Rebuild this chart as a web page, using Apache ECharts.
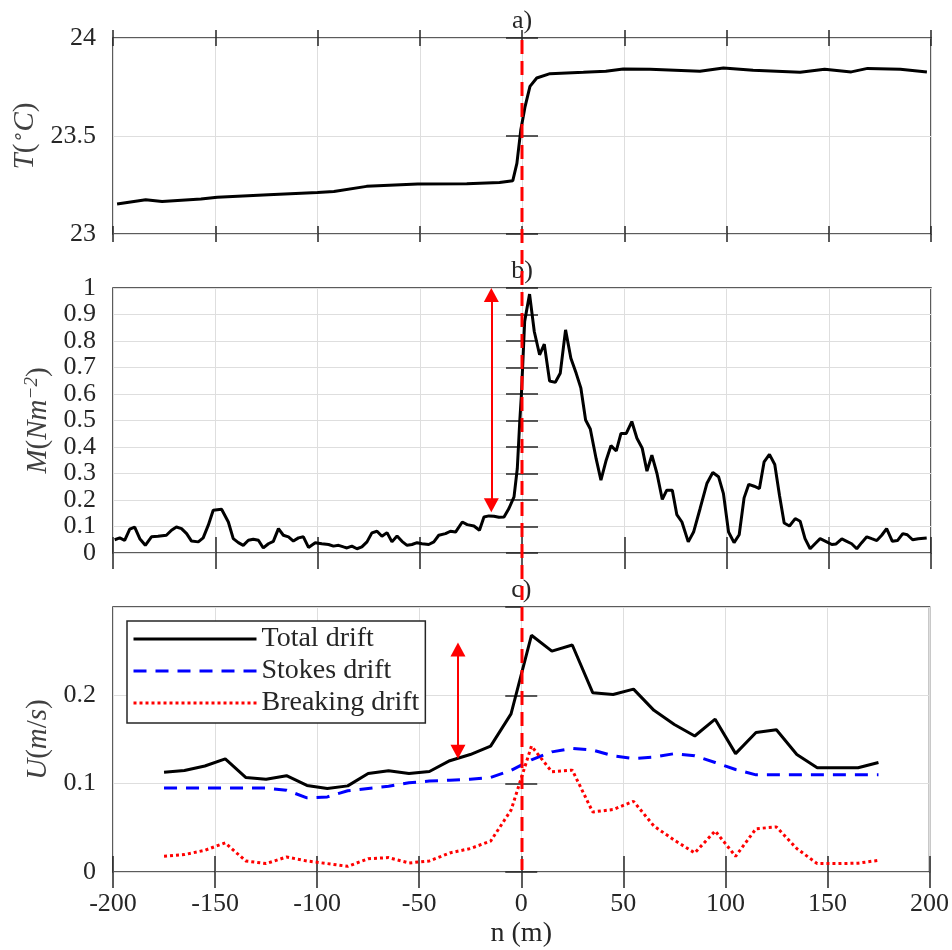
<!DOCTYPE html>
<html>
<head>
<meta charset="utf-8">
<script src="https://cdn.jsdelivr.net/npm/echarts@6/dist/echarts.min.js"></script>
<style>
  html, body { margin: 0; padding: 0; background: #fff; }
  #chart { width: 952px; height: 950px; }
</style>
</head>
<body>
<div id="chart"></div>
<script>
// a) temperature across the front
var tDist = [-198, -184, -176, -157, -149, -124, -100, -92, -76, -51, -27, -11, -4.5, -2.5, -0.6, 1.5, 3.9, 7.2, 13.7, 30, 41, 49.5, 62.6, 87, 98.5, 113, 136, 148, 161, 169, 185, 198];
var tVal = [23.153, 23.175, 23.166, 23.178, 23.188, 23.2, 23.212, 23.217, 23.243, 23.255, 23.256, 23.263, 23.272, 23.36, 23.53, 23.65, 23.753, 23.796, 23.818, 23.825, 23.83, 23.842, 23.84, 23.83, 23.847, 23.835, 23.825, 23.84, 23.827, 23.845, 23.84, 23.826];

// b) M
var mDist = [-199.2, -196.7, -194.3, -191.8, -189.4, -186.9, -184.2, -181.2, -178, -173.9,
  -171.4, -169, -166.5, -164, -161.6, -158.3, -155.9, -153.4, -151, -146.9,
  -143.6, -141.2, -138.7, -136.3, -133.8, -131.4, -128.9, -126.5, -124, -121.6,
  -119.1, -116.7, -114.2, -111.8, -109.3, -106.9, -104.4, -101.1, -97.9, -94.6,
  -92.2, -89.7, -87.3, -85.6, -83.2, -80.7, -78.3, -75.8, -73.4, -70.9,
  -68.5, -66, -63.6, -61.1, -58.7, -56.2, -53.8, -51.3, -48.9, -45.6,
  -43.1, -40.7, -37.4, -35, -32.5, -29.2, -26.8, -23.5, -20.8, -18.6,
  -16.2, -13.7, -11.3, -8.8, -6.4, -3.9, -2.3, -1.1, -0.3, 1.3,
  3.7, 6, 8.6, 10.9, 13.5, 16.3, 18.7, 21.3, 23.9, 26.5,
  28.8, 31.1, 33.4, 36.3, 38.6, 41.2, 43.5, 46.1, 48.4, 51,
  53.7, 56.2, 58.8, 61.1, 63.5, 66, 68.6, 70.8, 73.5, 75.7,
  78.2, 81.3, 83.9, 87.1, 90.4, 93.3, 96.1, 98.5, 101, 103.7,
  106.2, 108.6, 110.9, 113.5, 116.1, 118.4, 121, 123.6, 125.9, 128.2,
  130.8, 133.6, 136, 138.4, 140.9, 143.3, 145.8, 148.5, 151.5, 153.6,
  156.4, 158.8, 161.2, 163.7, 166.1, 168.6, 171, 173.5, 175.9, 178.3,
  181.1, 183.6, 186.2, 188.4, 191, 193.8, 197.9];
var mVal = [0.050, 0.057, 0.048, 0.09, 0.098, 0.054, 0.029, 0.061, 0.063, 0.067,
  0.086, 0.098, 0.092, 0.073, 0.045, 0.042, 0.057, 0.105, 0.161, 0.165,
  0.117, 0.054, 0.039, 0.029, 0.048, 0.052, 0.048, 0.019, 0.035, 0.044,
  0.092, 0.067, 0.061, 0.045, 0.057, 0.061, 0.021, 0.039, 0.035, 0.032,
  0.026, 0.029, 0.023, 0.019, 0.026, 0.016, 0.023, 0.042, 0.076, 0.082,
  0.063, 0.077, 0.042, 0.064, 0.044, 0.029, 0.032, 0.039, 0.035, 0.032,
  0.042, 0.067, 0.073, 0.082, 0.079, 0.117, 0.107, 0.102, 0.086, 0.136,
  0.14, 0.139, 0.135, 0.136, 0.168, 0.212, 0.319, 0.496, 0.596, 0.874,
  0.977, 0.836, 0.748, 0.788, 0.649, 0.644, 0.678, 0.842, 0.735, 0.678,
  0.622, 0.502, 0.468, 0.354, 0.275, 0.351, 0.405, 0.385, 0.451, 0.451,
  0.496, 0.433, 0.395, 0.309, 0.369, 0.3, 0.202, 0.237, 0.237, 0.145,
  0.117, 0.042, 0.079, 0.168, 0.262, 0.304, 0.288, 0.224, 0.079, 0.039,
  0.069, 0.208, 0.259, 0.252, 0.243, 0.344, 0.372, 0.334, 0.218, 0.113,
  0.102, 0.13, 0.12, 0.054, 0.016, 0.035, 0.054, 0.044, 0.032, 0.034,
  0.053, 0.044, 0.035, 0.016, 0.039, 0.061, 0.054, 0.047, 0.067, 0.092,
  0.044, 0.047, 0.073, 0.069, 0.05, 0.054, 0.057];

// c) drift velocities
var driftDist = [-175, -165, -155, -145, -135, -125, -115, -105, -95, -85, -75, -65, -55, -45, -35, -25, -15, -5,
  5, 15, 25, 35, 45, 55, 65, 75, 85, 95, 105, 115, 125, 135, 145, 155, 165, 175];
var totalDrift = [0.113, 0.115, 0.12, 0.128, 0.107, 0.105, 0.109, 0.098, 0.0945, 0.0975, 0.1115, 0.1146, 0.1115, 0.1138, 0.126, 0.133, 0.1425, 0.179,
  0.268, 0.25, 0.257, 0.203, 0.201, 0.207, 0.183, 0.167, 0.154, 0.173, 0.134, 0.158, 0.161, 0.133, 0.118, 0.118, 0.118, 0.124];
var stokesDrift = [0.095, 0.095, 0.095, 0.095, 0.095, 0.095, 0.0926, 0.084, 0.085, 0.092, 0.0945, 0.097, 0.101, 0.103, 0.104, 0.105, 0.107, 0.115,
  0.127, 0.136, 0.14, 0.138, 0.1316, 0.1285, 0.13, 0.134, 0.1316, 0.124, 0.116, 0.11, 0.11, 0.11, 0.11, 0.11, 0.11, 0.11];
var breakingDrift = [0.0178, 0.0197, 0.0246, 0.033, 0.0125, 0.0095, 0.017, 0.0125, 0.0095, 0.0064, 0.015, 0.0163, 0.0102, 0.0125, 0.0216, 0.0265, 0.035, 0.07,
  0.1425, 0.1134, 0.1153, 0.068, 0.0707, 0.08, 0.052, 0.036, 0.0216, 0.0465, 0.0178, 0.049, 0.051, 0.0265, 0.0095, 0.0095, 0.01, 0.0132];

var legendNames = ["Total drift", "Stokes drift", "Breaking drift"];
var panelTitles = ["a)", "b)", "c)"];
// arrow ends (n, value) drawn as double-headed arrows
var arrowB = [[-15, 0.18], [-15, 0.9735]];
var arrowC = [[-31, 0.136], [-31, 0.252]];

var FONT = "Liberation Serif";
var INK = "#262626";

function pairs(xs, ys) {
  return xs.map(function (x, i) { return [x, ys[i]]; });
}

var myChart = echarts.init(document.getElementById("chart"));

var grids = [
  { left: 113, right: 21, top: 38, height: 196 },
  { left: 113, right: 21, top: 288, height: 265 },
  { left: 113, right: 21, top: 607, height: 265 }
].map(function (g) {
  g.show = true;
  g.borderColor = INK;
  g.borderWidth = 1.5;
  g.backgroundColor = "transparent";
  return g;
});

var tick = { show: true, inside: true, length: 16, lineStyle: { color: INK, width: 1.5 } };
var split = { show: true, lineStyle: { color: "#dedede", width: 1 } };

var xAxes = [];
var yAxes = [];
var yRanges = [[23, 24, 0.5], [0, 1, 0.1], [0, 0.3, 0.1]];
var yNames = [
  "{i|T}{r|(}{sup|∘}{i|C}{r|)}",
  "{i|M}{r|(}{i|Nm}{sup|−2}{r|)}",
  "{i|U}{r|(}{i|m}{r|/}{i|s}{r|)}"
];
var yGaps = [60, 50, 50];
var nameRich = {
  i: { fontFamily: FONT, fontStyle: "italic", fontSize: 29, color: "#404040", lineHeight: 32 },
  r: { fontFamily: FONT, fontSize: 29, color: "#404040", lineHeight: 32 },
  sup: { fontFamily: FONT, fontStyle: "italic", fontSize: 19, color: "#404040", lineHeight: 18, verticalAlign: "top" }
};

for (var g = 0; g < 3; g++) {
  xAxes.push({
    type: "value", gridIndex: g, position: "bottom", min: -200, max: 200, interval: 50,
    offset: 8, axisLine: { show: false }, axisTick: tick, splitLine: split,
    axisLabel: { show: g === 2, margin: 11, color: INK, fontFamily: FONT, fontSize: 26 },
    name: g === 2 ? "n (m)" : "", nameLocation: "middle", nameGap: 40,
    nameTextStyle: { fontFamily: FONT, fontSize: 28, color: INK }
  });
  xAxes.push({
    type: "value", gridIndex: g, position: "top", min: -200, max: 200, interval: 50,
    offset: 8, axisLine: { show: false }, axisTick: tick, splitLine: { show: false },
    axisLabel: { show: false },
    name: panelTitles[g], nameLocation: "middle", nameGap: -4,
    nameTextStyle: { fontFamily: FONT, fontSize: 26, color: INK }
  });
  var r = yRanges[g];
  yAxes.push({
    type: "value", gridIndex: g, position: "left", min: r[0], max: r[1], interval: r[2],
    offset: 8, axisLine: { show: false }, axisTick: tick, splitLine: split,
    axisLabel: { margin: 9, color: INK, fontFamily: FONT, fontSize: 26, showMaxLabel: g !== 2 },
    name: yNames[g], nameLocation: "middle", nameGap: yGaps[g],
    nameTextStyle: { rich: nameRich }
  });
  yAxes.push({
    type: "value", gridIndex: g, position: "right", min: r[0], max: r[1], interval: r[2],
    offset: 8, axisLine: { show: false }, axisTick: tick, splitLine: { show: false },
    axisLabel: { show: false }
  });
}

function arrowLine(a) {
  return {
    silent: true,
    symbol: ["triangle", "triangle"],
    symbolSize: [15, 14],
    label: { show: false },
    lineStyle: { color: "#ff0000", width: 2, type: "solid" },
    itemStyle: { color: "#ff0000" },
    emphasis: { disabled: true },
    data: [[{ coord: a[0] }, { coord: a[1] }]]
  };
}

var option = {
  animation: false,
  backgroundColor: "#fff",
  grid: grids,
  xAxis: xAxes,
  yAxis: yAxes,
  legend: {
    data: legendNames,
    orient: "vertical",
    left: 127, top: 621,
    padding: [4, 6, 6, 5],
    itemWidth: 123, itemHeight: 12, itemGap: 4,
    borderColor: INK, borderWidth: 1.5,
    backgroundColor: "#fff",
    itemStyle: { opacity: 0 },
    lineStyle: { width: 3 },
    textStyle: { fontFamily: FONT, fontSize: 28, color: INK, lineHeight: 28 }
  },
  series: [
    {
      type: "line", xAxisIndex: 0, yAxisIndex: 0, symbol: "none",
      lineStyle: { color: "#000", width: 3 },
      data: pairs(tDist, tVal)
    },
    {
      type: "line", xAxisIndex: 2, yAxisIndex: 2, symbol: "none",
      lineStyle: { color: "#000", width: 3 },
      data: pairs(mDist, mVal),
      markLine: arrowLine(arrowB)
    },
    {
      name: legendNames[0], type: "line", xAxisIndex: 4, yAxisIndex: 4, symbol: "none",
      lineStyle: { color: "#000", width: 3 }, itemStyle: { color: "#000" },
      data: pairs(driftDist, totalDrift),
      markLine: arrowLine(arrowC)
    },
    {
      name: legendNames[1], type: "line", xAxisIndex: 4, yAxisIndex: 4, symbol: "none",
      lineStyle: { color: "#0000ff", width: 3, type: [13, 9] }, itemStyle: { color: "#0000ff" },
      data: pairs(driftDist, stokesDrift)
    },
    {
      name: legendNames[2], type: "line", xAxisIndex: 4, yAxisIndex: 4, symbol: "none",
      lineStyle: { color: "#ff0000", width: 3, type: [3, 3] }, itemStyle: { color: "#ff0000" },
      data: pairs(driftDist, breakingDrift)
    }
  ]
};
myChart.setOption(option);

// red dashed front line at n = 0, running through all three panels
var fx = myChart.convertToPixel({ xAxisIndex: 0 }, 0);
var fyTop = myChart.convertToPixel({ yAxisIndex: 0 }, 24);
var fyBot = myChart.convertToPixel({ yAxisIndex: 4 }, 0);
myChart.setOption({
  graphic: [{
    type: "line", z: 100, silent: true,
    shape: { x1: fx, y1: fyTop + 2, x2: fx, y2: fyBot - 2 },
    style: { stroke: "#ff0000", lineWidth: 3, lineDash: [14, 7] }
  }]
});

window.addEventListener("resize", function () {
  myChart.resize();
});
</script>
</body>
</html>
